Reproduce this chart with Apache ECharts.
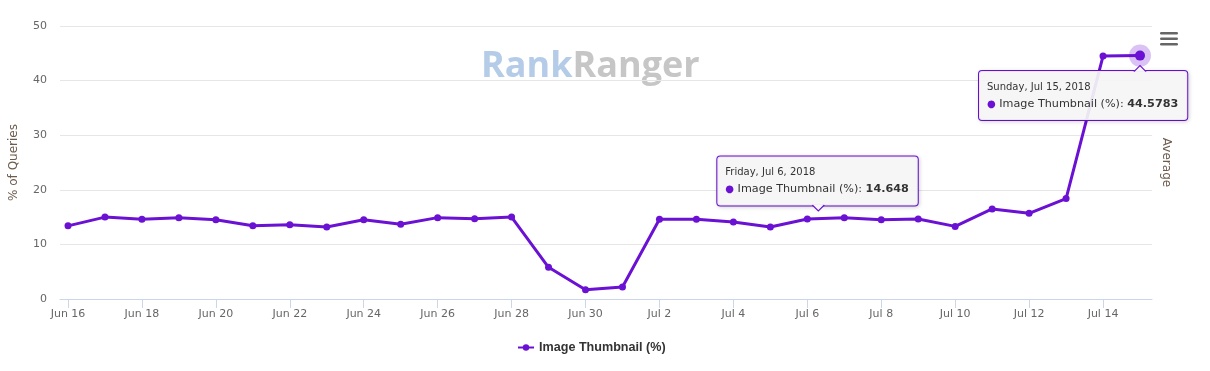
<!DOCTYPE html>
<html>
<head>
<meta charset="utf-8">
<script src="https://cdn.jsdelivr.net/npm/echarts@6/dist/echarts.min.js"></script>
<style>html,body{margin:0;padding:0;background:#fff}#c{width:1210px;height:371px}</style>
</head>
<body>
<div id="c"></div>
<script>
var categories = ['Jun 16','Jun 17','Jun 18','Jun 19','Jun 20','Jun 21','Jun 22','Jun 23','Jun 24','Jun 25','Jun 26','Jun 27','Jun 28','Jun 29','Jun 30','Jul 1','Jul 2','Jul 3','Jul 4','Jul 5','Jul 6','Jul 7','Jul 8','Jul 9','Jul 10','Jul 11','Jul 12','Jul 13','Jul 14','Jul 15'];
var imageThumbnail = [13.4,15.0,14.6,14.9,14.5,13.4,13.6,13.2,14.5,13.7,14.9,14.7,15.0,5.8,1.7,2.2,14.6,14.6,14.1,13.2,14.648,14.9,14.5,14.65,13.3,16.5,15.7,18.4,44.5,44.5783];
var yTicks = [0,10,20,30,40,50];
var seriesName = 'Image Thumbnail (%)';
var tip1 = {cat: 'Jul 6', date: 'Friday, Jul 6, 2018', value: '14.648'};
var tip2 = {cat: 'Jul 15', date: 'Sunday, Jul 15, 2018', value: '44.5783'};

var PURPLE = '#6a11d4';
var FONT = 'DejaVu Sans';
function valOf(cat){ return imageThumbnail[categories.indexOf(cat)]; }
function tipRich(){
  return {
    d: {fontSize: 10, color: '#333', fontFamily: FONT, lineHeight: 16, align: 'left'},
    b: {fontSize: 10, color: PURPLE, fontFamily: FONT, lineHeight: 18, align: 'left'},
    t: {fontSize: 11.2, color: '#333', fontFamily: FONT, lineHeight: 18, align: 'left'},
    v: {fontSize: 11.2, color: '#333', fontWeight: 'bold', fontFamily: FONT, lineHeight: 18, align: 'left'}
  };
}
function tipLabel(t, off){
  return {
    show: true, position: 'inside', offset: off,
    formatter: '{d|' + t.date + '}\n{b|●}{t| ' + seriesName + ': }{v|' + t.value + '}',
    rich: tipRich(),
    backgroundColor: 'rgba(247,247,247,0.92)', borderColor: PURPLE, borderWidth: 1, borderRadius: 3,
    padding: [8, 9, 7, 8], align: 'left', verticalAlign: 'middle',
    shadowColor: 'rgba(0,0,0,0.15)', shadowBlur: 4, shadowOffsetX: 1, shadowOffsetY: 1
  };
}

var chart = echarts.init(document.getElementById('c'));
chart.setOption({
  animation: false,
  textStyle: {fontFamily: FONT},
  grid: [
    {left: 58, right: 58, top: 26, bottom: 72},
    {left: 68, right: 70, top: 26, bottom: 72}
  ],
  xAxis: [
    {gridIndex: 0, type: 'value', min: 0, max: 1, axisLine: {show: true, lineStyle: {color: '#ccd6eb'}}, axisTick: {show: false}, axisLabel: {show: false}, splitLine: {show: false}},
    {gridIndex: 1, type: 'category', data: categories, boundaryGap: false,
     axisLine: {show: false},
     axisTick: {show: true, interval: 1, length: 9, lineStyle: {color: '#ccd6eb'}},
     axisLabel: {interval: 1, color: '#666', fontSize: 11, margin: 10, fontFamily: FONT},
     splitLine: {show: false}}
  ],
  yAxis: [
    {gridIndex: 0, type: 'value', min: yTicks[0], max: yTicks[yTicks.length-1], interval: 10,
     name: '% of Queries', nameLocation: 'middle', nameGap: 40, nameRotate: 90,
     nameTextStyle: {color: '#6d5c4d', fontSize: 12, fontFamily: FONT},
     axisLine: {show: false}, axisTick: {show: false},
     axisLabel: {color: '#666', fontSize: 11, margin: 13, fontFamily: FONT},
     splitLine: {lineStyle: {color: '#e6e6e6'}}},
    {gridIndex: 0, type: 'value', min: 0, max: 50, position: 'right',
     name: 'Average', nameLocation: 'middle', nameGap: 8, nameRotate: -90,
     nameTextStyle: {color: '#6d5c4d', fontSize: 12, fontFamily: FONT},
     axisLine: {show: false}, axisTick: {show: false}, axisLabel: {show: false}, splitLine: {show: false}},
    {gridIndex: 1, type: 'value', min: 0, max: 50, show: false}
  ],
  legend: {
    data: [seriesName], bottom: 12, left: 512, itemWidth: 16, itemHeight: 8, itemGap: 5,
    textStyle: {color: '#333', fontWeight: 'bold', fontSize: 12.6, fontFamily: 'Liberation Sans'}
  },
  graphic: [
    {type: 'text', left: 481, top: 49, z: 0, style: {
      text: '{a|Rank}{b|Ranger}',
      rich: {a: {fontSize: 36, fontWeight: 'bold', fill: '#b5cce8', fontFamily: 'Open Sans'},
             b: {fontSize: 36, fontWeight: 'bold', fill: '#c6c6c6', fontFamily: 'Open Sans'}}}},
    {type: 'rect', left: 1160, top: 32, shape: {width: 18, height: 2.6, r: 1.3}, style: {fill: '#666'}},
    {type: 'rect', left: 1160, top: 37.5, shape: {width: 18, height: 2.6, r: 1.3}, style: {fill: '#666'}},
    {type: 'rect', left: 1160, top: 43, shape: {width: 18, height: 2.6, r: 1.3}, style: {fill: '#666'}}
  ],
  series: [
    {name: seriesName, type: 'line', xAxisIndex: 1, yAxisIndex: 2, data: imageThumbnail,
     lineStyle: {color: PURPLE, width: 3}, itemStyle: {color: PURPLE},
     symbol: 'circle', symbolSize: 7, showAllSymbol: true, z: 3,
     markPoint: {z: 6, data: [
       {coord: [tip2.cat, valOf(tip2.cat)], symbol: 'circle', symbolSize: 22, itemStyle: {color: 'rgba(106,17,212,0.25)'}, label: {show: false}},
       {coord: [tip2.cat, valOf(tip2.cat)], symbol: 'circle', symbolSize: 10, itemStyle: {color: PURPLE}, label: {show: false}},
       {coord: [tip1.cat, valOf(tip1.cat)], symbol: 'circle', symbolSize: 0, label: tipLabel(tip1, [-90, -38])},
       {coord: [tip2.cat, valOf(tip2.cat)], symbol: 'circle', symbolSize: 0, label: tipLabel(tip2, [-161, 40])}
     ]}},
    {name: 'arrows', type: 'line', xAxisIndex: 1, yAxisIndex: 2, data: [], z: 4,
     markPoint: {z: 20, data: [
       {coord: [tip1.cat, valOf(tip1.cat)], symbol: 'path://M0,0L6,6L12,0', symbolSize: [12, 6], symbolKeepAspect: false, symbolOffset: [11, -11],
        itemStyle: {color: '#f7f7f7', borderColor: PURPLE, borderWidth: 1}, label: {show: false}},
       {coord: [tip2.cat, valOf(tip2.cat)], symbol: 'path://M0,6L6,0L12,6', symbolSize: [12, 6], symbolKeepAspect: false, symbolOffset: [0, 13],
        itemStyle: {color: '#f7f7f7', borderColor: PURPLE, borderWidth: 1}, label: {show: false}}
     ]}}
  ]
});
</script>
</body>
</html>
